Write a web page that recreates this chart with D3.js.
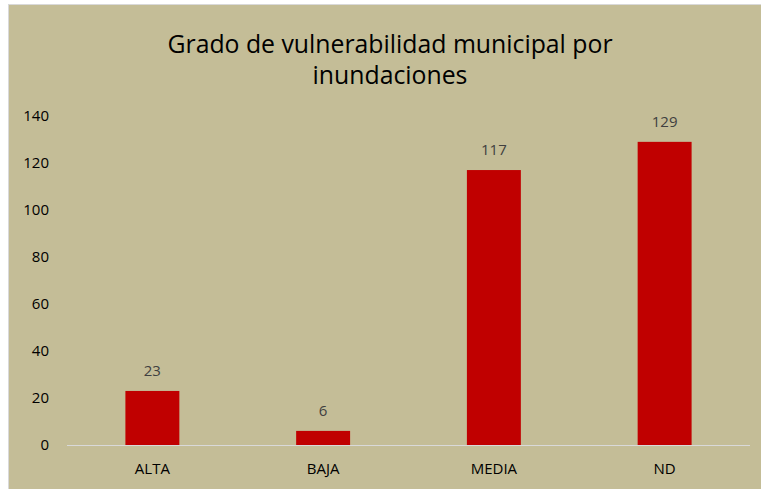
<!DOCTYPE html>
<html><head><meta charset="utf-8">
<script src="https://cdn.jsdelivr.net/npm/d3@7"></script>
<style>body{margin:0;background:#fff;}svg{display:block;}</style>
</head><body>
<script>
const categories = ["ALTA", "BAJA", "MEDIA", "ND"];
const values = [23, 6, 117, 129];
const yTicks = [0, 20, 40, 60, 80, 100, 120, 140];
const titleLines = ["Grado de vulnerabilidad municipal por", "inundaciones"];

const W = 761, H = 489;
const svg = d3.select("body").append("svg").attr("width", W).attr("height", H);
svg.append("rect").attr("x", 8.5).attr("y", 4.5).attr("width", 770).attr("height", 500)
  .attr("fill", "#C4BD97").attr("stroke", "#D9D9D9").attr("stroke-width", 1);

const x = d3.scaleBand().domain(categories).range([67, 750]).padding(0);
const y = d3.scaleLinear().domain([0, 140]).range([445, 116]);
const barFrac = 0.316;
const font = "'Open Sans', 'Noto Sans', sans-serif";

svg.append("g").selectAll("text").data(titleLines).join("text")
  .attr("x", 390).attr("y", (d, i) => 53 + i * 31)
  .attr("text-anchor", "middle").attr("font-family", font).attr("font-size", 24.8)
  .attr("fill", "#000").text(d => d);

svg.append("g").selectAll("text").data(yTicks).join("text")
  .attr("x", 49).attr("y", d => y(d) + 5)
  .attr("text-anchor", "end").attr("font-family", font).attr("font-size", 15)
  .attr("fill", "#000").text(d => d);

svg.append("line").attr("x1", 67).attr("x2", 750).attr("y1", y(0) + 0.5).attr("y2", y(0) + 0.5)
  .attr("stroke", "#D9D9D9").attr("stroke-width", 1);

svg.append("g").selectAll("rect").data(values).join("rect")
  .attr("x", (d, i) => x(categories[i]) + x.bandwidth() * (1 - barFrac) / 2)
  .attr("width", x.bandwidth() * barFrac)
  .attr("y", d => y(d)).attr("height", d => y(0) - y(d))
  .attr("fill", "#C00000");

svg.append("g").selectAll("text").data(values).join("text")
  .attr("x", (d, i) => x(categories[i]) + x.bandwidth() / 2)
  .attr("y", d => y(d) - 15)
  .attr("text-anchor", "middle").attr("font-family", font).attr("font-size", 15)
  .attr("fill", "#404040").text(d => d);

svg.append("g").selectAll("text").data(categories).join("text")
  .attr("x", d => x(d) + x.bandwidth() / 2).attr("y", 474)
  .attr("text-anchor", "middle").attr("font-family", font).attr("font-size", 15)
  .attr("fill", "#000").text(d => d);
</script>
</body></html>
